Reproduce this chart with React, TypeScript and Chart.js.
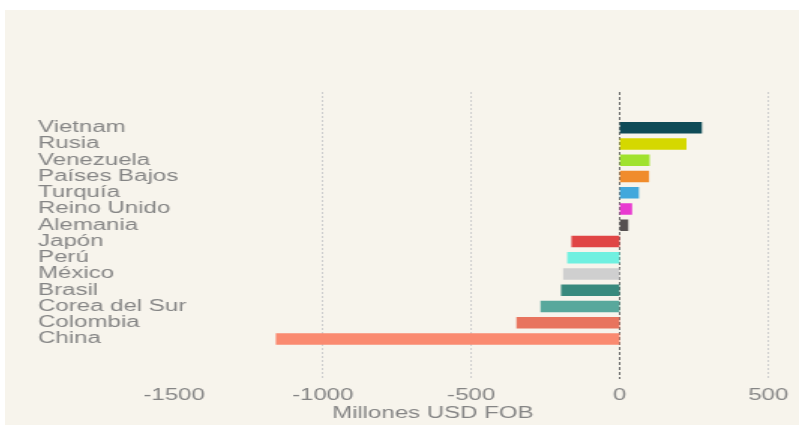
import React, { useEffect, useRef } from "react";
import { Chart, registerables } from "chart.js";

Chart.register(...registerables);

const countries = [
  "Vietnam",
  "Rusia",
  "Venezuela",
  "Países Bajos",
  "Turquía",
  "Reino Unido",
  "Alemania",
  "Japón",
  "Perú",
  "México",
  "Brasil",
  "Corea del Sur",
  "Colombia",
  "China",
];

const values = [275, 223, 99, 97, 63, 40, 27, -161, -175, -189, -196, -265, -346, -1156];

const barColors = [
  "#0f4b57",
  "#d5d800",
  "#a0e22e",
  "#f08c2c",
  "#42a8dc",
  "#e83ad0",
  "#555050",
  "#e04545",
  "#70f0e0",
  "#cfcfcf",
  "#388a7e",
  "#58a89c",
  "#e8745e",
  "#fa8a70",
];

const xTicks = [-1500, -1000, -500, 0, 500];
const xTitle = "Millones USD FOB";

const TEXT = "#858585";
const FONT = "'Liberation Sans', Arial, sans-serif";
const Y_AXIS_WIDTH = 90.67;

export default function App() {
  const ref = useRef<HTMLCanvasElement | null>(null);

  useEffect(() => {
    if (!ref.current) return;
    const titlePlugin = {
      id: "xTitle",
      afterDraw(chart: any) {
        const ctx = chart.ctx;
        ctx.save();
        ctx.font = `16px ${FONT}`;
        ctx.fillStyle = TEXT;
        ctx.textAlign = "center";
        ctx.textBaseline = "middle";
        ctx.fillText(xTitle, 285, 404);
        ctx.restore();
      },
    };
    const chart = new Chart(ref.current, {
      type: "bar",
      data: {
        datasets: [
          {
            data: values.map((v, i) => ({ x: v, y: i })) as any,
            backgroundColor: barColors,
            barThickness: 11,
          },
        ],
      },
      options: {
        indexAxis: "y",
        animation: false,
        responsive: false,
        devicePixelRatio: 1,
        layout: { padding: { left: 22, right: 4, top: 82, bottom: 0 } },
        plugins: {
          legend: { display: false },
          tooltip: { enabled: false },
        },
        scales: {
          x: {
            type: "linear",
            min: -1500,
            max: 575,
            afterBuildTicks: (scale: any) => {
              scale.ticks = xTicks.map((v) => ({ value: v }));
            },
            afterFit: (scale: any) => {
              scale.height = 46;
            },
            ticks: {
              color: TEXT,
              font: { family: FONT, size: 16 },
              padding: 7,
              maxRotation: 0,
              autoSkip: false,
              callback: (v: any) => String(v),
            },
            grid: {
              drawTicks: false,
              color: (ctx: any) =>
                ctx.tick && ctx.tick.value === -1500
                  ? "rgba(0,0,0,0)"
                  : ctx.tick && ctx.tick.value === 0
                  ? "#666666"
                  : "#cfcfcf",
              lineWidth: 1,
            },
            border: {
              display: false,
              dash: (ctx: any) => (ctx.tick && ctx.tick.value === 0 ? [3, 2] : [2, 2]),
            },
          },
          y: {
            type: "linear",
            reverse: true,
            offset: false,
            min: -2.2,
            max: 15.46,
            afterBuildTicks: (scale: any) => {
              scale.ticks = countries.map((_, i) => ({ value: i }));
            },
            afterFit: (scale: any) => {
              scale.width = Y_AXIS_WIDTH;
            },
            ticks: {
              color: TEXT,
              font: { family: FONT, size: 16 },
              mirror: true,
              crossAlign: "near",
              padding: -Y_AXIS_WIDTH,
              autoSkip: false,
              callback: (v: any) => countries[v as number] ?? "",
            },
            grid: { display: false, offset: false },
            border: { display: false },
          },
        },
      } as any,
      plugins: [titlePlugin],
    });
    return () => chart.destroy();
  }, []);

  return (
    <div
      style={{
        position: "fixed",
        left: 5,
        top: 10,
        width: 794,
        height: 415,
        background: "#f7f4ec",
      }}
    >
      <canvas
        ref={ref}
        width={529}
        height={415}
        style={{ width: "794px", height: "415px", display: "block" }}
      />
    </div>
  );
}
